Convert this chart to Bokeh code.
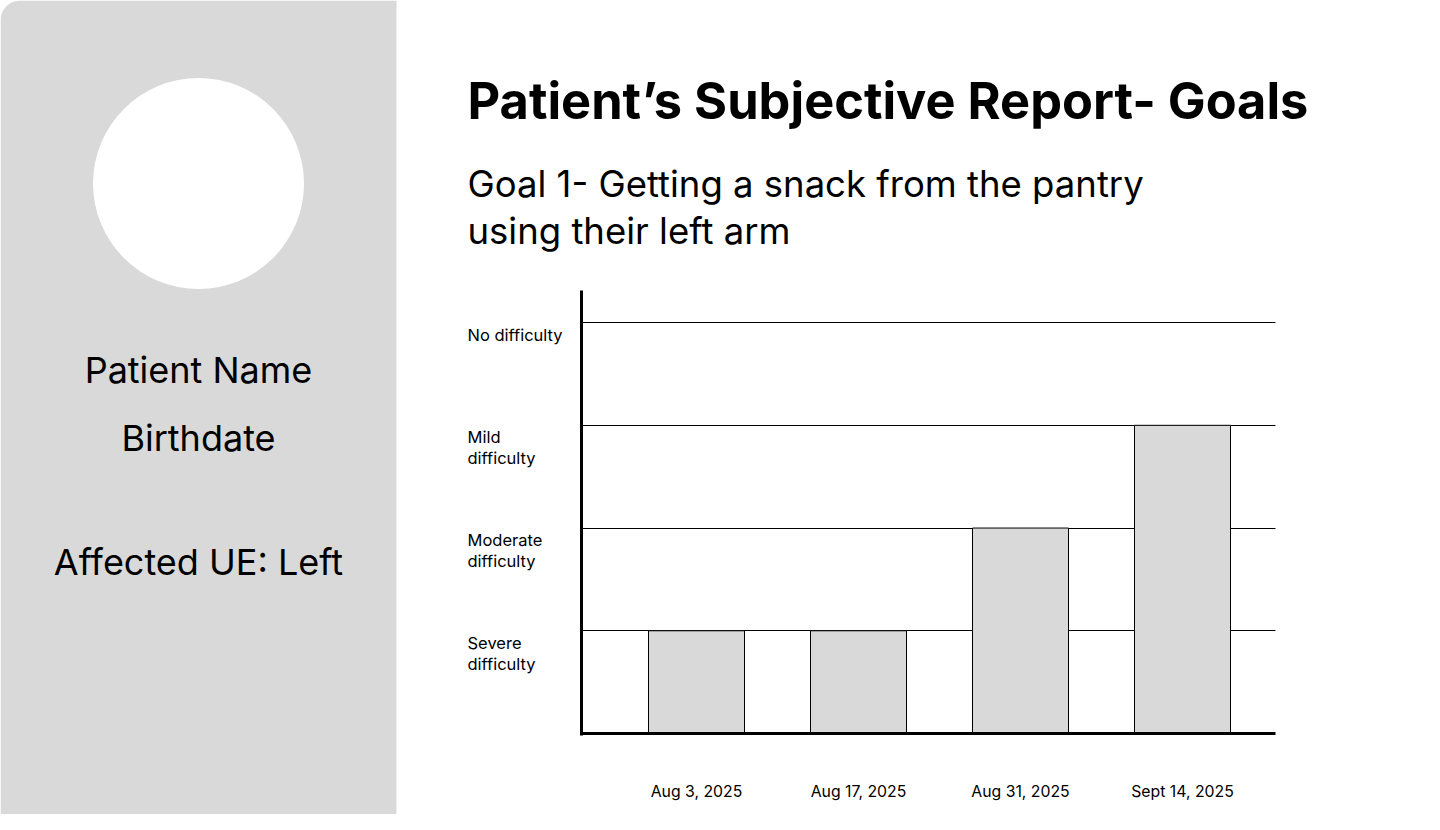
from bokeh.plotting import figure
from bokeh.models import (Range1d, FixedTicker, Label, LinearAxis, Grid,
                          BoxAnnotation)
from bokeh.core.properties import value
from bokeh.embed import file_html
from bokeh.resources import INLINE

# ---------------- data ----------------
dates = ["Aug 3, 2025", "Aug 17, 2025", "Aug 31, 2025", "Sept 14, 2025"]
scores = [1, 1, 2, 3]  # 1 = Severe, 2 = Moderate, 3 = Mild, 4 = No difficulty
level_values = [1, 2, 3, 4]
level_names = ["Severe\ndifficulty", "Moderate\ndifficulty", "Mild\ndifficulty", "No difficulty"]
patient_fields = ["Patient Name", "Birthdate", "Affected UE: Left"]
title_text = "Patient\u2019s Subjective Report- Goals"
goal_lines = ["Goal 1- Getting a snack from the pantry", "using their left arm"]

FONT = "Inter"
GRAY = "#d9d9d9"
W, H = 1424, 814

# chart scale (data units -> page pixels): x px = 696 + 162*(x-1); y px = 733 - 102.73*y
X0, XS = 696.0, 162.0
Y0, YS = 733.0, 102.73
x_range = Range1d(1 - X0 / XS, 1 + (W - X0) / XS)
y_range = Range1d((Y0 - H) / YS, Y0 / YS)
chart_x = (1 + (581 - X0) / XS, 1 + (1275 - X0) / XS)   # chart area x bounds
chart_ytop = (Y0 - 290) / YS

p = figure(width=W, height=H, output_backend="svg", toolbar_location=None,
           x_range=x_range, y_range=y_range, x_axis_location=None,
           y_axis_location=None, min_border=0, outline_line_color=None,
           background_fill_color="white", border_fill_color="white")
p.grid.visible = False
# page-pixel coordinate system for the decorative layout
p.extra_x_ranges = {"px": Range1d(0, W)}
p.extra_y_ranges = {"px": Range1d(H, 0)}

# ---------------- left panel ----------------
p.add_layout(BoxAnnotation(left=0, right=396, top=0, bottom=H, x_range_name="px",
                           y_range_name="px", fill_color=GRAY, fill_alpha=1,
                           line_color=None, level="underlay",
                           border_radius=(20, 0, 0, 0)))
p.circle(x=[198], y=[183], radius=105.5, fill_color="white", line_color=None,
         x_range_name="px", y_range_name="px")
field_y = [369, 437, 561]
p.text(x=[198] * len(patient_fields), y=field_y, text=patient_fields,
       x_range_name="px", y_range_name="px", text_align="center",
       text_baseline="alphabetic", text_font=value(FONT), text_font_size="36px",
       text_color="black")

# ---------------- title & goal ----------------
p.add_layout(Label(x=467, y=100, x_range_name="px", y_range_name="px",
                   text=title_text, text_align="left", text_baseline="alphabetic",
                   text_font=FONT, text_font_style="bold", text_font_size="50.5px",
                   text_color="black"))
for i, line in enumerate(goal_lines):
    p.add_layout(Label(x=467, y=183 + 47 * i, x_range_name="px", y_range_name="px",
                       text=line, text_align="left", text_baseline="alphabetic",
                       text_font=FONT, text_font_size="36.5px", text_color="black"))

# ---------------- chart ----------------
x_pos = list(range(1, len(dates) + 1))

grid = Grid(dimension=1, ticker=FixedTicker(ticks=level_values),
            grid_line_color="black", grid_line_width=1, cross_bounds=chart_x)
p.add_layout(grid)

p.vbar(x=x_pos, top=scores, bottom=0, width=96 / XS,
       fill_color=GRAY, line_color="black", line_width=1)

xaxis = LinearAxis(fixed_location=0, bounds=chart_x,
                   ticker=FixedTicker(ticks=x_pos),
                   major_label_overrides={x: d for x, d in zip(x_pos, dates)},
                   major_tick_line_color=None, minor_tick_line_color=None,
                   axis_line_width=3, axis_line_color="black",
                   major_label_standoff=42, major_label_text_font=FONT,
                   major_label_text_font_size="15.8px",
                   major_label_text_color="black")
p.add_layout(xaxis, "below")

yaxis = LinearAxis(fixed_location=chart_x[0], bounds=(-0.015, chart_ytop),
                   ticker=FixedTicker(ticks=[]),
                   major_tick_line_color=None, minor_tick_line_color=None,
                   axis_line_width=3, axis_line_color="black")
p.add_layout(yaxis, "left")

# level labels, just below each grid line, left-aligned
p.text(x=[467] * len(level_values), y=level_values, text=level_names,
       x_range_name="px", text_align="left", text_baseline="top", y_offset=2,
       text_font=value(FONT), text_font_size="16.5px", text_color="black",
       text_line_height=1.04)

open("out.html", "w").write(file_html(p, INLINE))
